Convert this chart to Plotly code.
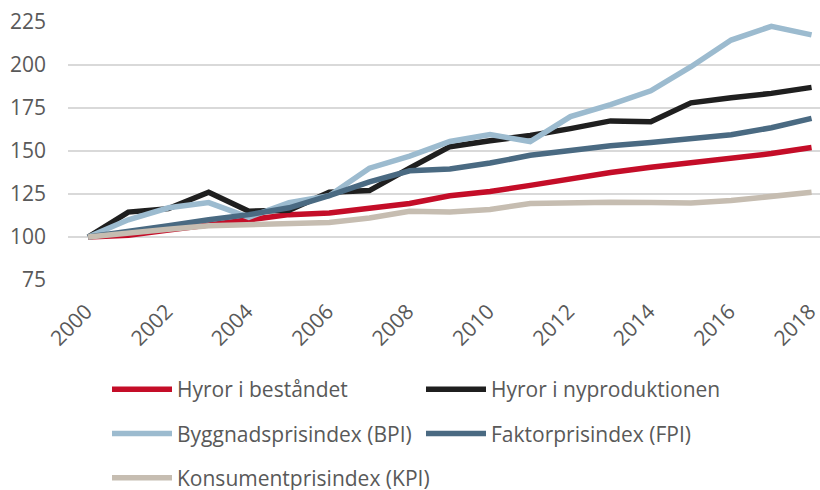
import plotly.graph_objects as go

years = list(range(2000, 2019))
hyror_bestandet = [100, 101, 104, 107, 110, 113, 114, 116.5, 119.5, 124, 126.5, 130, 134, 137.5, 140.5, 143, 145.5, 148.5, 152]
hyror_nyprod = [100, 114.5, 116.5, 126, 115, 115.5, 126, 127, 140, 152.5, 156, 159, 163, 167.5, 167, 178, 181, 183.5, 187]
bpi = [100, 110, 117, 120, 111.5, 120, 124, 140, 147, 155.5, 159.5, 155.5, 170, 177, 185, 199, 214.5, 222.5, 217.5]
fpi = [100, 103, 106.5, 110, 113, 117, 124, 132, 138.5, 139.5, 143, 147.5, 150.5, 153, 155, 157, 159.5, 163.5, 169]
kpi = [100, 102.5, 104.5, 106.5, 107, 107.5, 108.5, 111, 115, 114.5, 116, 119.5, 120, 120.2, 120, 119.8, 121.2, 123.5, 126]

x_ticks = list(range(2000, 2019, 2))
y_ticks = [75, 100, 125, 150, 175, 200, 225]

series = [
    ("Hyror i beståndet", hyror_bestandet, "#C40D28", "legend", "g1"),
    ("Hyror i nyproduktionen", hyror_nyprod, "#1F1F1F", "legend2", "g2"),
    ("Byggnadsprisindex (BPI)", bpi, "#9CBBCF", "legend", "g3"),
    ("Faktorprisindex (FPI)", fpi, "#4A6A82", "legend2", "g4"),
    ("Konsumentprisindex (KPI)", kpi, "#C6BDB1", "legend", "g5"),
]

FONT = "Open Sans, Lato, sans-serif"
TXT = "#595959"
FS = 21

fig = go.Figure()
for name, vals, col, leg, grp in series:
    fig.add_trace(go.Scatter(
        x=years, y=vals, mode="lines", name=name,
        line=dict(color=col, width=5.5),
        legend=leg, legendgroup=grp,
    ))

W, H = 820, 490
ml, mr, mt, mb = 68, 0, 22, 210
pw, ph = W - ml - mr, H - mt - mb

def px_x(px):
    return (px - ml) / pw

def px_y(py):
    return (H - mb - py) / ph

legend_common = dict(
    orientation="v", xanchor="left", yanchor="top",
    font=dict(family=FONT, size=FS, color=TXT),
    bgcolor="rgba(0,0,0,0)", borderwidth=0,
    itemwidth=60, tracegroupgap=14, itemclick=False,
)

fig.update_layout(
    width=W, height=H,
    margin=dict(l=ml, r=mr, t=mt, b=mb, pad=0, autoexpand=False),
    paper_bgcolor="white", plot_bgcolor="white",
    font=dict(family=FONT, size=FS, color=TXT),
    showlegend=True,
    legend=dict(x=px_x(107), y=px_y(369), **legend_common),
    legend2=dict(x=px_x(421), y=px_y(369), **legend_common),
    xaxis=dict(
        range=[1999.5, 2018.21], tickvals=x_ticks, ticktext=[str(v) for v in x_ticks],
        tickangle=-45, showgrid=False, zeroline=False, showline=False,
        ticks="", ticklabelstandoff=14, ticklabelshift=-2,
        ticklabeloverflow="allow", automargin=False,
        tickfont=dict(family=FONT, size=FS, color=TXT),
    ),
    yaxis=dict(
        range=[75, 225], tickvals=y_ticks, showgrid=True, gridcolor="#D9D9D9",
        gridwidth=1.3, zeroline=False, showline=False, ticks="",
        ticklabelstandoff=21, automargin=False,
        tickfont=dict(family=FONT, size=FS, color=TXT),
    ),
)

fig.write_html(
    "out.html",
    config={"displayModeBar": False, "staticPlot": True},
    post_script="document.body.style.margin='0';document.body.style.overflow='hidden';",
)
